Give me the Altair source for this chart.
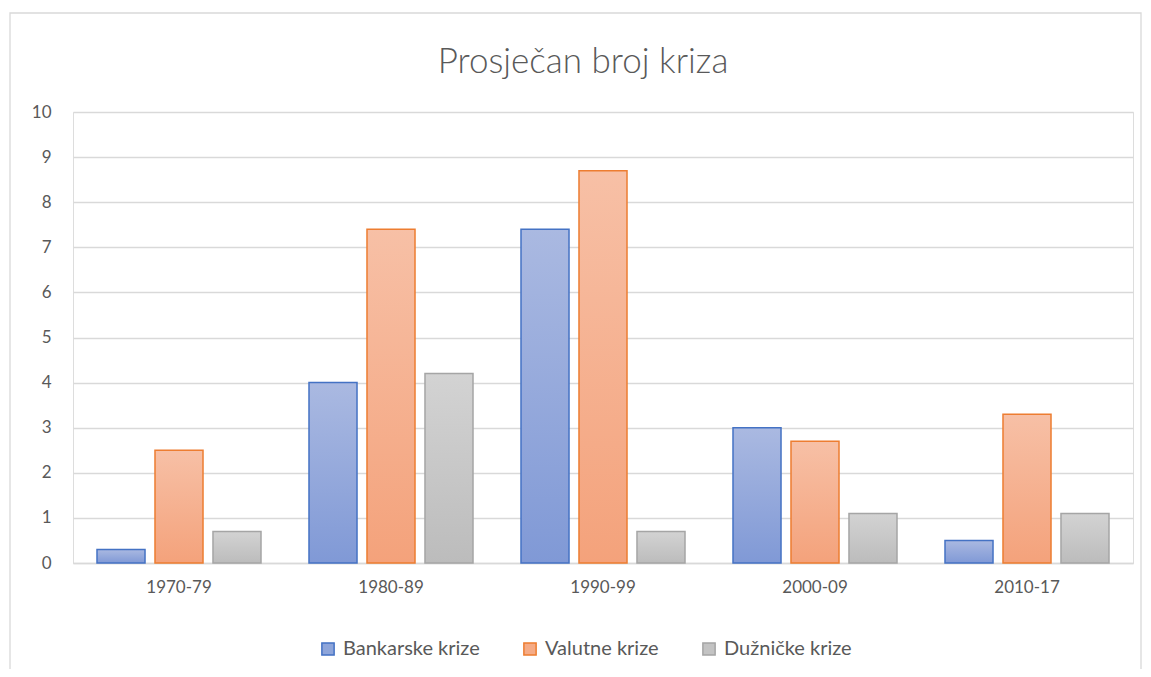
import altair as alt
import pandas as pd

periods = ["1970-79", "1980-89", "1990-99", "2000-09", "2010-17"]
series = ["Bankarske krize", "Valutne krize", "Dužničke krize"]
bankarske = [0.3, 4.0, 7.4, 3.0, 0.5]
valutne = [2.5, 7.4, 8.7, 2.7, 3.3]
duznicke = [0.7, 4.2, 0.7, 1.1, 1.1]
y_ticks = list(range(0, 11))

rows = []
for s, vals in zip(series, [bankarske, valutne, duznicke]):
    for p, v in zip(periods, vals):
        rows.append({"period": p, "series": s, "value": v})
df = pd.DataFrame(rows)

strokes = ["#4472C4", "#ED7D31", "#A5A5A5"]
legend_fills = ["#8EA5DA", "#F5AB86", "#C3C3C3"]
grad_top = ["#AAB9E1", "#F7C0A6", "#D3D3D3"]
grad_bot = ["#8099D6", "#F4A27B", "#BCBCBC"]

FONT = "Lato"
LABEL = "#595959"

x_enc = alt.X("period:N", sort=periods, title=None,
              scale=alt.Scale(paddingInner=0.2264, paddingOuter=0.1132),
              axis=alt.Axis(labelAngle=0, labelFontSize=17, labelColor=LABEL,
                            labelFont=FONT, labelPadding=16, ticks=False,
                            domain=True, domainColor="#D9D9D9", domainWidth=1.3,
                            grid=False))
xo_enc = alt.XOffset("series:N", sort=series,
                     scale=alt.Scale(domain=series, paddingInner=0.172, paddingOuter=0))
y_enc = alt.Y("value:Q", title=None,
              scale=alt.Scale(domain=[0, 10], nice=False),
              axis=alt.Axis(values=y_ticks, labelFontSize=17, labelColor=LABEL,
                            labelFont=FONT, labelPadding=22, ticks=False,
                            domain=False, gridColor="#D9D9D9", gridWidth=1.3))

leg = dict(title=None, orient="none", direction="horizontal",
           legendX=245, legendY=527, symbolType="square",
           symbolSize=150, symbolOpacity=1,
           symbolStrokeWidth=1.5, labelFontSize=20,
           labelColor=LABEL, labelFont=FONT,
           columnPadding=40, labelOffset=5)

base = alt.Chart(df)

legend_layer = base.mark_bar(opacity=0).encode(
    x=x_enc, xOffset=xo_enc, y=y_enc,
    fill=alt.Fill("series:N", sort=series,
                  scale=alt.Scale(domain=series, range=legend_fills),
                  legend=alt.Legend(**leg)),
    stroke=alt.Stroke("series:N", sort=series,
                      scale=alt.Scale(domain=series, range=strokes),
                      legend=alt.Legend(**leg)),
)

layers = [legend_layer]
for i, s in enumerate(series):
    grad = alt.Gradient(
        gradient="linear",
        stops=[alt.GradientStop(color=grad_top[i], offset=0),
               alt.GradientStop(color=grad_bot[i], offset=1)],
        x1=0, x2=0, y1=0, y2=1)
    layers.append(
        base.transform_filter(alt.datum.series == s)
        .mark_bar(fill=grad, stroke=strokes[i], strokeWidth=1.5)
        .encode(x=x_enc, xOffset=xo_enc, y=y_enc)
    )

frame = alt.Chart(pd.DataFrame({"a": [0]})).mark_rect(
    fill=None, stroke="#D9D9D9", strokeWidth=1.3
).encode(x=alt.value(-63), x2=alt.value(1068), y=alt.value(-99), y2=alt.value(620))

chart = alt.layer(frame, *layers).properties(
    width=1060, height=451,
    title=alt.TitleParams("Prosječan broj kriza", fontSize=35, font=FONT,
                          color=LABEL, fontWeight=300, anchor="middle",
                          frame="group", dx=-20, offset=-68),
    autosize=alt.AutoSizeParams(type="none"),
    padding={"left": 65, "top": 104, "right": 10, "bottom": 106},
).configure_view(stroke=None).configure(background="white")

chart.save("out.html", embed_options={"renderer": "svg", "actions": False})
